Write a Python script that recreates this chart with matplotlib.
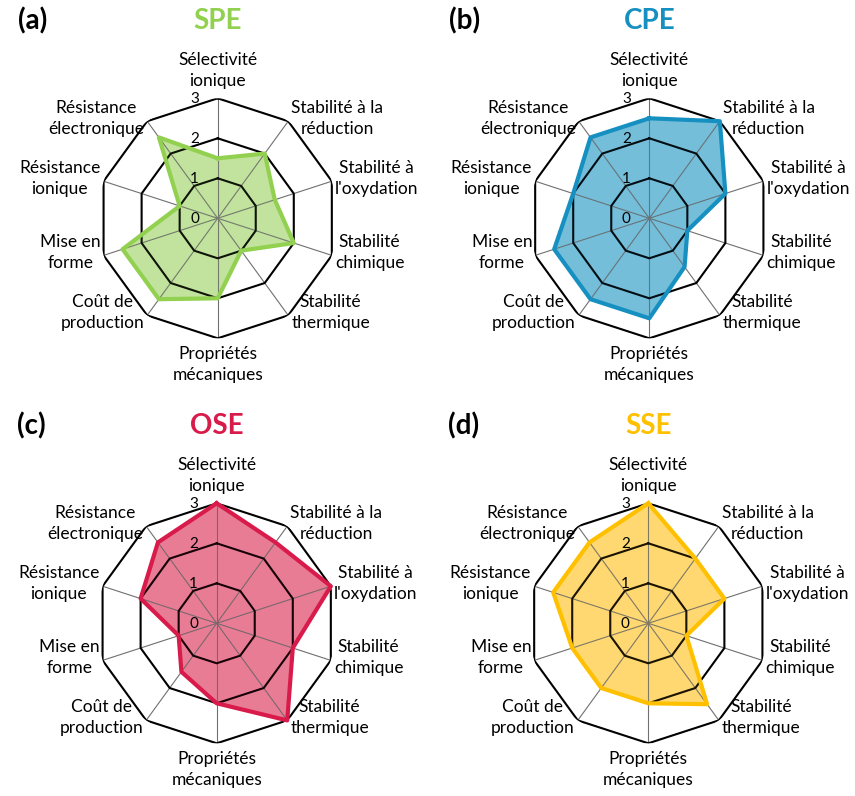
import numpy as np
import matplotlib
matplotlib.use("Agg")
import matplotlib.pyplot as plt

plt.rcParams['font.family'] = ['Lato', 'DejaVu Sans']

categories = ["Sélectivité\nionique", "Stabilité à la\nréduction", "Stabilité à\nl'oxydation",
              "Stabilité\nchimique", "Stabilité\nthermique", "Propriétés\nmécaniques",
              "Coût de\nproduction", "Mise en\nforme", "Résistance\nionique",
              "Résistance\nélectronique"]
spe = [1.5, 2.0, 1.5, 2.0, 1.0, 2.0, 2.5, 2.5, 1.0, 2.5]
cpe = [2.5, 3.0, 2.0, 1.0, 1.5, 2.5, 2.5, 2.5, 2.0, 2.5]
ose = [3.0, 2.5, 3.0, 2.0, 3.0, 2.0, 1.5, 1.0, 2.0, 2.5]
sse = [3.0, 2.0, 2.0, 1.0, 2.5, 2.0, 2.0, 2.0, 2.5, 2.5]
ticks = [0, 1, 2, 3]

panels = [
    ("(a)", "SPE", spe, "#92D050", "#C8E6A6", (217.7, 218.3)),
    ("(b)", "CPE", cpe, "#1690C0", "#80C4DE", (649.3, 218.3)),
    ("(c)", "OSE", ose, "#D81B4A", "#EA889E", (216.7, 623.3)),
    ("(d)", "SSE", sse, "#FFC000", "#FFDB80", (648.3, 623.3)),
]

W, H = 855, 796
R = 120
fig = plt.figure(figsize=(W / 100, H / 100), dpi=100)

n = len(categories)
angles = np.arange(n) * 2 * np.pi / n
closed = np.append(angles, angles[0])

for tag, name, vals, lc, fc, (cx, cy) in panels:
    ax = fig.add_axes([(cx - R) / W, (H - cy - R) / H, 2 * R / W, 2 * R / H], projection='polar')
    ax.set_theta_offset(np.pi / 2)
    ax.set_theta_direction(-1)
    ax.set_ylim(0, 3)
    ax.set_xticks([])
    ax.set_yticks([])
    ax.grid(False)
    ax.spines['polar'].set_visible(False)
    ax.patch.set_alpha(0)

    for a in angles:
        ax.plot([a, a], [0, 3], color="#707070", lw=0.8, zorder=1)
    for r in ticks[1:]:
        ax.plot(closed, [r] * (n + 1), color="black", lw=1.5, zorder=2)

    v = np.append(vals, vals[0])
    ax.fill(closed, v, color=fc, alpha=1.0, zorder=0.5)
    ax.fill(closed, v, color=lc, alpha=0.10, zorder=3)
    ax.plot(closed, v, color=lc, lw=3, zorder=4, clip_on=False)

    for t in ticks:
        ax.annotate(str(t), xy=(0, t), xytext=(-23, -1), textcoords='offset pixels',
                    ha='center', va='center', fontsize=11, color='black', zorder=5,
                    annotation_clip=False)

    for i, (a, lab) in enumerate(zip(angles, categories)):
        deg = np.degrees(a) % 360
        if i == 0:
            ha, va, off = 'center', 'bottom', (0, 9)
        elif i == 5:
            ha, va, off = 'center', 'top', (0, -8)
        elif deg < 180:
            ha, va, off = 'left', 'center', (3, 3)
        else:
            ha, va, off = 'right', 'center', (-3, 3)
        ax.annotate(lab, xy=(a, 3), xytext=off, textcoords='offset pixels',
                    ha=ha, va=va, multialignment='center', fontsize=12.5,
                    linespacing=1.4, annotation_clip=False)

    fig.text(cx / W, 1 - (cy - 197) / H, name, ha='center', va='center', fontsize=20,
             fontweight='bold', color=lc)
    fig.text((cx - 185) / W, 1 - (cy - 197) / H, tag, ha='center', va='center', fontsize=20,
             fontweight='bold', color='black')

fig.savefig("out.png", dpi=100)
